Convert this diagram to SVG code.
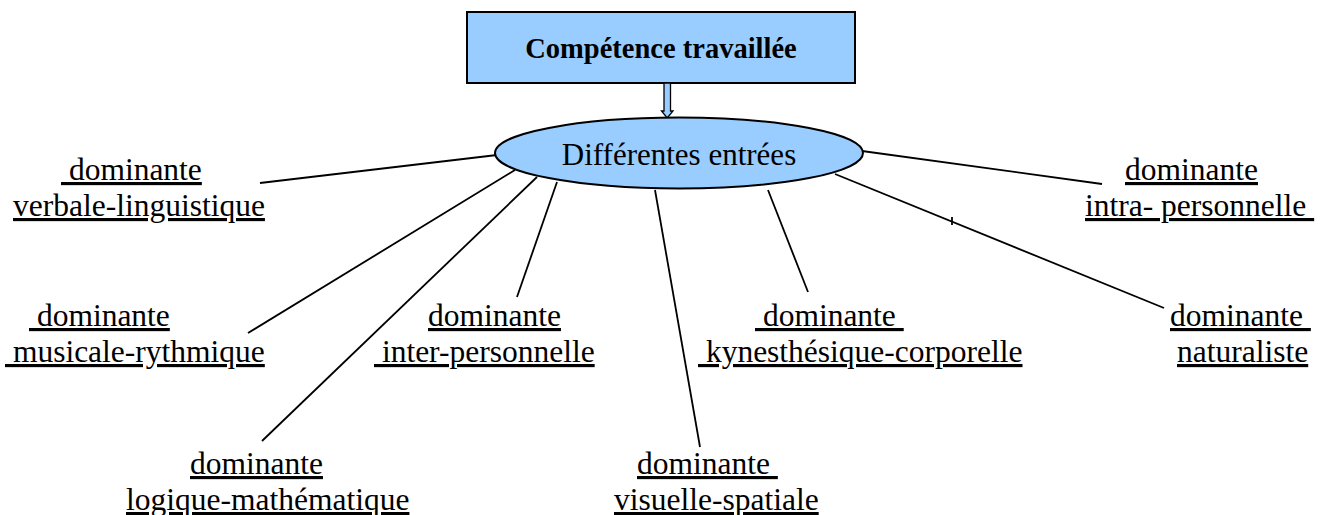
<svg xmlns="http://www.w3.org/2000/svg" width="1326" height="515" viewBox="0 0 1326 515">
<style>
text{font-family:'Liberation Serif',serif;fill:#000}
.lbl{font-size:31.5px;text-decoration:underline;white-space:pre}
.conn line{stroke:#000;stroke-width:1.8}
</style>
<rect width="1326" height="515" fill="#fff"/>
<g id="competence">
<rect x="467" y="12" width="388" height="71" fill="#99CCFF" stroke="#000" stroke-width="2"/>
<text x="661" y="58" text-anchor="middle" font-size="28.5" font-weight="bold">Compétence travaillée</text>
</g>
<g id="arrow">
<polygon points="664,83 670.5,83 670.5,111 673,111 667.2,118 661.5,111 664,111" fill="#99CCFF" stroke="#000" stroke-width="1.3"/>
</g>
<g class="conn" id="connectors">
<line x1="497" y1="155" x2="260" y2="183"/>
<line x1="515" y1="170" x2="248" y2="333"/>
<line x1="537" y1="177" x2="262" y2="441"/>
<line x1="557" y1="182" x2="517" y2="297"/>
<line x1="655" y1="190" x2="700" y2="447"/>
<line x1="768" y1="190" x2="808" y2="292"/>
<line x1="862" y1="151" x2="1102" y2="184"/>
<line x1="835" y1="174" x2="1164" y2="308"/>
<line x1="952" y1="217" x2="952" y2="225" stroke-width="1"/>
</g>
<g id="entrees">
<ellipse cx="679" cy="153" rx="184" ry="35.5" fill="#99CCFF" stroke="#000" stroke-width="2"/>
<text x="679" y="165" text-anchor="middle" font-size="31">Différentes entrées</text>
</g>
<g id="verbale"><text class="lbl" x="61" y="180"> dominante</text><text class="lbl" x="13" y="216">verbale-linguistique</text></g>
<g id="musicale"><text class="lbl" x="29" y="326"> dominante</text><text class="lbl" x="5" y="362"> musicale-rythmique</text></g>
<g id="logique"><text class="lbl" x="190" y="474">dominante</text><text class="lbl" x="126" y="510">logique-mathématique</text></g>
<g id="inter"><text class="lbl" x="428" y="326">dominante</text><text class="lbl" x="374" y="362"> inter-personnelle</text></g>
<g id="visuelle"><text class="lbl" x="637" y="474">dominante </text><text class="lbl" x="614" y="510">visuelle-spatiale</text></g>
<g id="kynesthesique"><text class="lbl" x="755" y="326"> dominante </text><text class="lbl" x="698" y="362"> kynesthésique-corporelle</text></g>
<g id="intra"><text class="lbl" x="1125" y="180">dominante</text><text class="lbl" x="1085" y="216">intra- personnelle </text></g>
<g id="naturaliste"><text class="lbl" x="1170" y="326">dominante </text><text class="lbl" x="1177" y="362">naturaliste</text></g>
</svg>
